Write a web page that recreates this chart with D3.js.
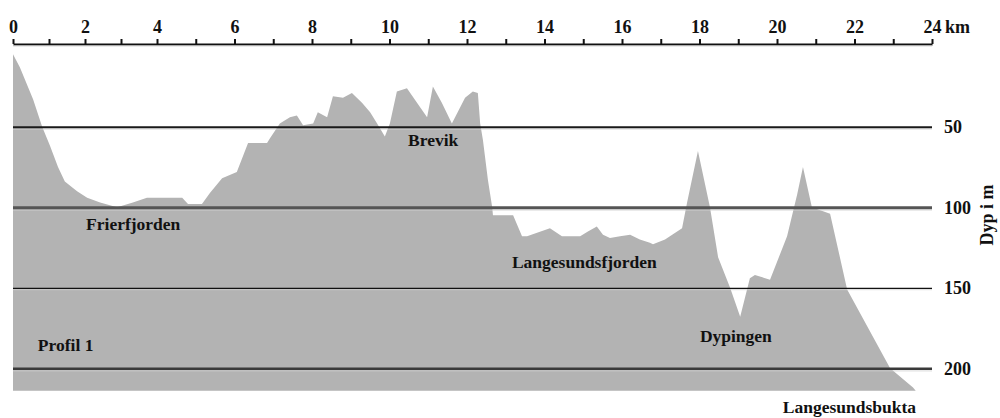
<!DOCTYPE html>
<html>
<head>
<meta charset="utf-8">
<script src="https://cdn.jsdelivr.net/npm/d3@7"></script>
<style>
  html, body { margin: 0; padding: 0; background: #fff; }
  svg { display: block; }
  text { font-family: "Liberation Serif", "Times New Roman", serif; font-weight: bold; fill: #111; }
</style>
</head>
<body>
<svg id="chart" width="1000" height="418"></svg>
<script>
// ---- data ----
const distanceKm = [0, 0.19, 0.56, 0.81, 1.03, 1.25, 1.44, 1.78, 2.06, 2.42,
  2.89, 3.33, 3.72, 4.34, 4.65, 4.80, 5.16, 5.37, 5.68, 6.06,
  6.35, 6.84, 6.92, 7.17, 7.43, 7.61, 7.77, 8.03, 8.15, 8.39,
  8.54, 8.80, 9.03, 9.29, 9.50, 9.68, 9.88, 10.01, 10.19, 10.45,
  10.97, 11.12, 11.35, 11.61, 11.95, 12.15, 12.28, 12.34, 12.41, 12.54,
  12.65, 12.67, 13.19, 13.42, 13.55, 14.14, 14.45, 14.66, 14.92, 15.12,
  15.35, 15.51, 15.69, 15.95, 16.21, 16.46, 16.72, 16.80, 17.11, 17.55,
  17.68, 17.96, 18.27, 18.48, 18.79, 19.05, 19.30, 19.43, 19.82, 20.26,
  20.52, 20.67, 20.90, 21.37, 21.81, 22.92, 23.51, 23.58];
const depthM = [5, 13, 33, 50, 62, 75, 84, 90, 94, 97,
  100, 97, 94, 94, 94, 98, 98, 91, 82, 78,
  60, 60, 57, 48, 44, 43, 49, 48, 41, 44,
  31, 32, 29, 35, 41, 48, 56, 48, 28, 26,
  44, 25, 35, 48, 32, 28, 29, 48, 58, 83,
  100, 105, 105, 118, 118, 113, 118, 118, 118, 115,
  112, 117, 119, 118, 117, 120, 122, 123, 120, 113,
  97, 65, 100, 131, 150, 168, 144, 142, 145, 118,
  92, 75, 100, 104, 151, 200, 212, 214];
const baseDepth = 214;
const kmTickValues = [0,1,2,3,4,5,6,7,8,9,10,11,12,13,14,15,16,17,18,19,20,21,22,23,24];
const kmLabels = [0,2,4,6,8,10,12,14,16,18,20,22,24];
const depthTicks = [50, 100, 150, 200];
const placeNames = ["Frierfjorden", "Brevik", "Langesundsfjorden", "Dypingen", "Profil 1", "Langesundsbukta"];
const placeKm = [2.03, 10.48, 13.16, 18.01, 0.69, 20.15];
const placeDepth = [114, 62, 137.7, 183.7, 189.3, 227.8];
const unitLabel = "km";
const depthTitle = "Dyp i m";

// ---- scales ----
const svg = d3.select("#chart");
const x = d3.scaleLinear().domain([0, 4, 24]).range([13, 157, 932]);
const y = d3.scaleLinear().domain([0, 200]).range([46.3, 368.3]);

const profile = distanceKm.map((k, i) => ({ km: k, depth: depthM[i] }));

// ---- area ----
const area = d3.area()
  .x(d => x(d.km))
  .y0(y(baseDepth))
  .y1(d => y(d.depth));
svg.append("path")
  .datum(profile)
  .attr("d", area)
  .attr("fill", "#b3b3b3");

// ---- depth lines (right axis) ----
const lineStyles = [
  { stroke: "#1a1a1a", width: 2 },
  { stroke: "#555555", width: 3 },
  { stroke: "#111111", width: 1.2 },
  { stroke: "#3a3a3a", width: 2.5 }
];
const yAxis = d3.axisRight(y)
  .tickValues(depthTicks)
  .tickSizeInner(-(x(24) - x(0)))
  .tickSizeOuter(0)
  .tickPadding(12);
const gy = svg.append("g").attr("transform", `translate(${x(24)},0)`).call(yAxis);
gy.select(".domain").remove();
// faint shadow under each depth line
gy.selectAll(".tick").insert("line", "line")
  .attr("x2", -(x(24) - x(0)))
  .attr("y1", (d, i) => lineStyles[i].width / 2 + 0.8)
  .attr("y2", (d, i) => lineStyles[i].width / 2 + 0.8)
  .attr("stroke", "#cfcfcf")
  .attr("stroke-opacity", 0.6)
  .attr("stroke-width", 1.2);
gy.selectAll(".tick line:last-of-type")
  .attr("stroke", (d, i) => lineStyles[i].stroke)
  .attr("stroke-width", (d, i) => lineStyles[i].width);
gy.selectAll(".tick text")
  .attr("font-family", "Liberation Serif, Times New Roman, serif")
  .attr("font-weight", "bold")
  .attr("font-size", 18)
  .attr("fill", "#111");

// ---- top km axis ----
const xAxis = d3.axisTop(x)
  .tickValues(kmTickValues)
  .tickSize(5)
  .tickSizeOuter(0)
  .tickPadding(6)
  .tickFormat(d => kmLabels.includes(d) ? String(d) : "");
const gx = svg.append("g").attr("transform", "translate(0,44)").call(xAxis);
gx.select(".domain").attr("stroke", "#111").attr("stroke-width", 2);
gx.selectAll(".tick line").attr("stroke", "#111").attr("stroke-width", 2);
gx.selectAll(".tick text")
  .attr("font-family", "Liberation Serif, Times New Roman, serif")
  .attr("font-weight", "bold")
  .attr("font-size", 18)
  .attr("fill", "#111");
svg.append("line")
  .attr("x1", x(0)).attr("x2", x(24))
  .attr("y1", 45.8).attr("y2", 45.8)
  .attr("stroke", "#bbb").attr("stroke-width", 1);

svg.append("text")
  .attr("x", x(24) + 13)
  .attr("y", 33)
  .attr("font-size", 18)
  .text(unitLabel);

svg.append("text")
  .attr("transform", `translate(993,215) rotate(-90)`)
  .attr("text-anchor", "middle")
  .attr("font-size", 18)
  .text(depthTitle);

// ---- place labels ----
svg.append("g").selectAll("text")
  .data(placeNames)
  .join("text")
  .attr("x", (d, i) => x(placeKm[i]))
  .attr("y", (d, i) => y(placeDepth[i]))
  .attr("font-size", 17.5)
  .text(d => d);
</script>
</body>
</html>
